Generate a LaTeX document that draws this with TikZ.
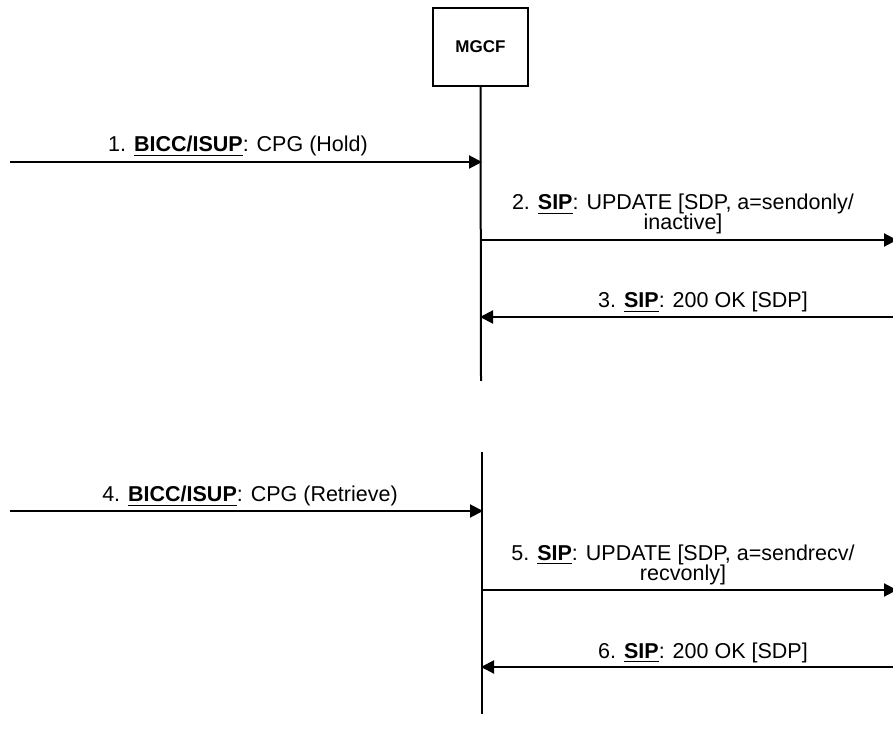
\documentclass[tikz,border=0pt]{standalone}
\usepackage{fontspec}
\setmainfont{Liberation Sans}
\usetikzlibrary{arrows.meta,positioning}

\newcommand{\Proto}[1]{\underline{\textbf{#1}}}

\begin{document}
\begin{tikzpicture}
  [x=0.5pt, y=-0.5pt,
   entity/.style={draw, line width=1pt, minimum width=47.5pt, minimum height=39pt,
                  inner sep=0pt, font=\fontsize{8.5}{10}\selectfont\bfseries},
   lifeline/.style={line width=1pt},
   message/.style={line width=1pt, -{Triangle[length=6.5pt, width=6.5pt]}, shorten >=-0.5pt},
   msg label/.style={font=\fontsize{10.75}{11.5}\selectfont, align=center, anchor=base, inner sep=0pt}]

  \useasboundingbox (0,0) rectangle (893,742);

  % MGCF and its two lifelines
  \node [entity] (mgcf) at (480.5,47) {MGCF};
  \coordinate (life1-end) at (481,381);
  \coordinate (life2-top) at (482,452);
  \coordinate (life2-end) at (482,714);
  \draw [lifeline] (mgcf.south) -- (life1-end);
  \draw [lifeline] (life2-top) -- (life2-end);

  % free ends and lifeline points of the messages
  \coordinate (m1-from) at (10,162);   \coordinate (m1-to) at (481,162);
  \coordinate (m2-from) at (481,240);  \coordinate (m2-to) at (896,240);
  \coordinate (m3-from) at (893,317);  \coordinate (m3-to) at (481,317);
  \coordinate (m4-from) at (10,511);   \coordinate (m4-to) at (482,511);
  \coordinate (m5-from) at (482,590);  \coordinate (m5-to) at (896,590);
  \coordinate (m6-from) at (893,667);  \coordinate (m6-to) at (482,667);

  \draw [message] (m1-from) -- (m1-to);
  \draw [message] (m2-from) -- (m2-to);
  \draw [message] (m3-from) -- (m3-to);
  \draw [message] (m4-from) -- (m4-to);
  \draw [message] (m5-from) -- (m5-to);
  \draw [message] (m6-from) -- (m6-to);

  % message texts
  \node [msg label] (l1) at (238,152) {1. \Proto{BICC/ISUP}: CPG (Hold)};
  \node [msg label] (l2) at (683,230) {2. \Proto{SIP}: UPDATE [SDP, a=sendonly/\\[-1.5pt]inactive]};
  \node [msg label] (l3) at (703,308) {3. \Proto{SIP}: 200 OK [SDP]};
  \node [msg label] (l4) at (250,502) {4. \Proto{BICC/ISUP}: CPG (Retrieve)};
  \node [msg label] (l5) at (683,580) {5. \Proto{SIP}: UPDATE [SDP, a=sendrecv/\\[-1.5pt]recvonly]};
  \node [msg label] (l6) at (703,658) {6. \Proto{SIP}: 200 OK [SDP]};
\end{tikzpicture}
\end{document}
